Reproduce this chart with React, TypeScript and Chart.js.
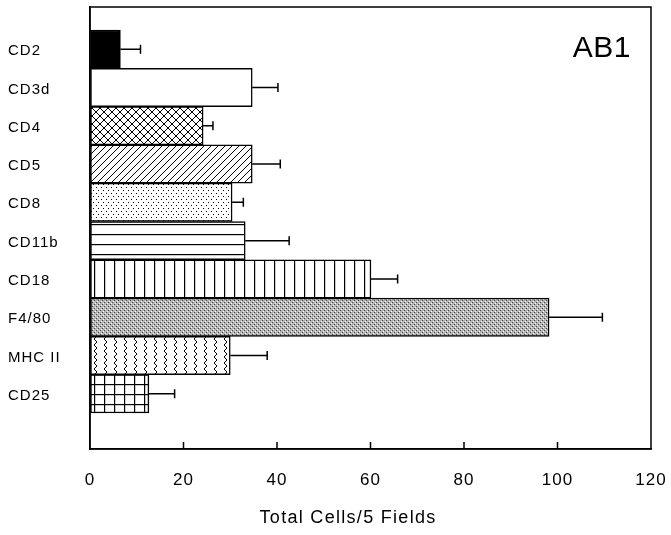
import React, { useEffect, useRef } from 'react';
import { Chart, registerables } from 'chart.js';

Chart.register(...registerables);

const categories = ['CD2', 'CD3d', 'CD4', 'CD5', 'CD8', 'CD11b', 'CD18', 'F4/80', 'MHC II', 'CD25'];
const values = [6.5, 34.7, 24.2, 34.7, 30.4, 33.2, 60.1, 98.2, 30.0, 12.6];
const errors = [4.3, 5.5, 2.1, 6.0, 2.4, 9.4, 5.7, 11.4, 7.9, 5.5];
const fills = ['solid', 'white', 'cross', 'diag', 'dots', 'hlines', 'vlines', 'stipple', 'zigzag', 'grid'];
const xTicks = [0, 20, 40, 60, 80, 100, 120];
const panelLabel = 'AB1';
const xTitle = 'Total Cells/5 Fields';

const FONT = '"Liberation Sans", Arial, Helvetica, sans-serif';

function makeFill(kind: string): CanvasPattern | string {
  if (kind === 'solid') return '#000000';
  if (kind === 'white') return '#ffffff';
  const c = document.createElement('canvas');
  let w = 10;
  let h = 10;
  if (kind === 'cross') { w = 8; h = 8; }
  if (kind === 'diag') { w = 7; h = 7; }
  if (kind === 'dots') { w = 5; h = 6; }
  if (kind === 'stipple') { w = 4; h = 4; }
  if (kind === 'zigzag') { w = 10; h = 6; }
  c.width = w;
  c.height = h;
  const g = c.getContext('2d') as CanvasRenderingContext2D;
  g.fillStyle = '#ffffff';
  g.fillRect(0, 0, w, h);
  g.strokeStyle = '#000000';
  g.fillStyle = '#000000';
  g.lineWidth = 1;
  if (kind === 'cross') {
    g.beginPath();
    g.moveTo(0, 0); g.lineTo(w, h);
    g.moveTo(w, 0); g.lineTo(0, h);
    g.moveTo(-1, h - 1); g.lineTo(1, h + 1);
    g.stroke();
  } else if (kind === 'diag') {
    g.beginPath();
    g.moveTo(0, h); g.lineTo(w, 0);
    g.moveTo(-1, 1); g.lineTo(1, -1);
    g.moveTo(w - 1, h + 1); g.lineTo(w + 1, h - 1);
    g.stroke();
  } else if (kind === 'dots') {
    g.fillRect(1, 1, 1, 1);
    g.fillRect(3, 4, 1, 1);
  } else if (kind === 'hlines') {
    g.fillRect(0, 4, w, 1.2);
  } else if (kind === 'vlines') {
    g.fillRect(4, 0, 1.2, h);
  } else if (kind === 'stipple') {
    g.fillStyle = '#b4b4b4';
    g.fillRect(0, 0, w, h);
    g.fillStyle = '#ffffff';
    g.fillRect(1, 1, 1, 1);
    g.fillRect(3, 3, 1, 1);
    g.fillStyle = '#444444';
    g.fillRect(0, 2, 1, 1);
    g.fillRect(2, 0, 1, 1);
  } else if (kind === 'zigzag') {
    g.beginPath();
    g.moveTo(7, 0); g.lineTo(4, 3); g.lineTo(7, 6);
    g.stroke();
  } else if (kind === 'grid') {
    g.fillRect(4, 0, 1.2, h);
    g.fillRect(0, 4, w, 1.2);
  }
  const p = g.createPattern(c, 'repeat');
  return p || '#ffffff';
}

const decorPlugin = {
  id: 'decor',
  beforeDraw(chart: any) {
    (chart.ctx as any).letterSpacing = '1px';
  },
  afterDatasetsDraw(chart: any) {
    const ctx = chart.ctx as CanvasRenderingContext2D;
    const xs = chart.scales.x;
    const ys = chart.scales.y;
    ctx.save();
    ctx.strokeStyle = '#000';
    ctx.lineWidth = 1.5;
    values.forEach((v, i) => {
      const y = ys.getPixelForValue(i);
      const x0 = xs.getPixelForValue(v);
      const x1 = xs.getPixelForValue(v + errors[i]);
      ctx.beginPath();
      ctx.moveTo(x0, y);
      ctx.lineTo(x1, y);
      ctx.moveTo(x1, y - 4.5);
      ctx.lineTo(x1, y + 4.5);
      ctx.stroke();
    });
    ctx.restore();
  },
  afterDraw(chart: any) {
    const ctx = chart.ctx as CanvasRenderingContext2D;
    const a = chart.chartArea;
    const xs = chart.scales.x;
    ctx.save();
    ctx.strokeStyle = '#000';
    ctx.lineWidth = 1.5;
    ctx.strokeRect(a.left, a.top, a.right - a.left, a.bottom - a.top);
    ctx.beginPath();
    xTicks.slice(1, -1).forEach((t) => {
      const x = xs.getPixelForValue(t);
      ctx.moveTo(x, a.bottom);
      ctx.lineTo(x, a.bottom - 7);
    });
    ctx.stroke();
    ctx.fillStyle = '#000';
    (ctx as any).letterSpacing = '0.5px';
    ctx.font = '30px ' + FONT;
    ctx.textAlign = 'right';
    ctx.textBaseline = 'alphabetic';
    ctx.fillText(panelLabel, a.right - 20, a.top + 50);
    (ctx as any).letterSpacing = '1.3px';
    ctx.font = '18px ' + FONT;
    ctx.textAlign = 'center';
    ctx.textBaseline = 'middle';
    ctx.fillText(xTitle, a.left + 0.46 * (a.right - a.left), 518);
    ctx.restore();
  },
};

export default function App() {
  const ref = useRef<HTMLCanvasElement | null>(null);
  useEffect(() => {
    if (!ref.current) return;
    const chart = new Chart(ref.current, {
      type: 'bar',
      data: {
        datasets: [
          {
            data: categories.map((_, i) => ({ x: values[i], y: i })),
            backgroundColor: fills.map(makeFill),
            borderColor: '#000',
            borderWidth: 1.5,
            borderSkipped: false,
            barPercentage: 1,
            categoryPercentage: 1,
          } as any,
        ],
      },
      options: {
        indexAxis: 'y',
        animation: false,
        responsive: false,
        events: [],
        layout: { padding: { top: 7, right: 20, left: 8, bottom: 0 } },
        plugins: { legend: { display: false }, tooltip: { enabled: false } },
        scales: {
          x: {
            type: 'linear',
            min: 0,
            max: 120,
            afterBuildTicks: (s: any) => {
              s.ticks = xTicks.map((v) => ({ value: v }));
            },
            ticks: { color: '#000', padding: 21, font: { family: FONT, size: 17 } },
            grid: { display: true, drawOnChartArea: false, drawTicks: false, color: '#000' },
            border: { display: true, color: '#000', width: 1.5 },
            afterFit: (s: any) => {
              s.height = 86;
              s.paddingLeft = 0;
              s.paddingRight = 0;
            },
          },
          y: {
            type: 'linear',
            reverse: true,
            offset: false,
            min: -1.1,
            max: 10.44,
            afterBuildTicks: (s: any) => {
              s.ticks = categories.map((_, i) => ({ value: i }));
            },
            ticks: {
              color: '#000',
              crossAlign: 'far',
              autoSkip: false,
              labelOffset: 2,
              font: { family: FONT, size: 15 },
              callback: (v: any) => categories[v as number] ?? '',
            },
            grid: { display: false },
            border: { display: true, color: '#000', width: 1.5 },
            afterFit: (s: any) => {
              s.width = 82;
              s.paddingTop = 0;
              s.paddingBottom = 0;
            },
          },
        },
      } as any,
      plugins: [decorPlugin],
    });
    return () => chart.destroy();
  }, []);
  return (
    <div style={{ position: 'absolute', left: 0, top: 0, width: 671, height: 535, background: '#fff' }}>
      <canvas ref={ref} width={671} height={535} style={{ display: 'block' }} />
    </div>
  );
}
